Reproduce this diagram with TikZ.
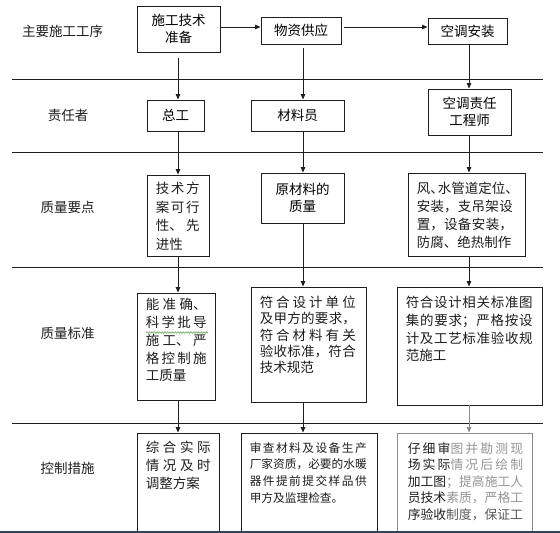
\documentclass[tikz,border=0pt]{standalone}
\usepackage{fontspec}
\setmainfont{Noto Sans CJK SC}
\XeTeXlinebreaklocale "zh"
\XeTeXlinebreakskip=0pt plus 4pt
\usetikzlibrary{arrows.meta,decorations.pathmorphing}
\definecolor{ink}{RGB}{30,30,30}
\definecolor{fade}{RGB}{150,150,150}
\definecolor{band}{RGB}{55,66,88}
\definecolor{squig}{RGB}{110,175,90}
\tikzset{
  >={Triangle[length=5.5pt,width=4.5pt]},
  box/.style={draw=ink,line width=0.9pt,inner sep=0pt,align=center,
    font=\fontsize{13.5}{17}\selectfont},
  rowlab/.style={inner sep=0pt,font=\fontsize{13.5}{17}\selectfont,text=ink},
  txt/.style={inner sep=0pt,anchor=north west,align=justify,text width=#1,text=ink},
  flow/.style={->,line width=0.9pt,draw=#1,fill=#1},
  flow/.default=ink,
  rule/.style={line width=0.9pt,draw=ink},
}

\begin{document}
\begin{tikzpicture}[x=1pt,y=-1pt]
  \clip (0,0) rectangle (560,533);
  \fill[white] (0,0) rectangle (560,533);
  % row labels
  \node[rowlab] (l1) at (62.5,31) {主要施工工序};
  \node[rowlab] (l2) at (68,115) {责任者};
  \node[rowlab] (l3) at (67.5,207) {质量要点};
  \node[rowlab] (l4) at (67.5,333) {质量标准};
  \node[rowlab] (l5) at (67.5,468) {控制措施};
  % separators
  \foreach \y in {79,152,267,423}
    \draw[rule] (12,\y) -- (543,\y);
  % columns
  \coordinate (colA) at (178,0);
  \coordinate (colB) at (303,0);
  \coordinate (colC) at (469,0);
  \coordinate (rowT) at (0,27);
  % procedure
  \node[box,minimum width=83pt,minimum height=46pt] (prep) at (178.5,29) {施工技术\\准备};
  \node[box,minimum width=80pt,minimum height=27pt] (supply) at (301,30.5) {物资供应};
  \node[box,minimum width=79pt,minimum height=26pt] (ac) at (467.5,31) {空调安装};
  % persons in charge
  \node[box,minimum width=57pt,minimum height=31pt] (chief) at (175.5,115.5) {总工};
  \node[box,minimum width=93pt,minimum height=31pt] (clerk) at (297.5,115.5) {材料员};
  \node[box,minimum width=83pt,minimum height=46pt] (acEng) at (469.5,112) {空调责任\\工程师};
  % key points
  \node[box,minimum width=62pt,minimum height=81pt] (k1) at (178,215.5) {};
  \node[txt=44pt,font=\fontsize{13.5}{18.5}\selectfont] (k1t) at ([shift={(9pt,-7.5pt)}]k1.north west)
    {技术方\linebreak 案可行\linebreak 性、先\linebreak 进性};
  \node[box,minimum width=83pt,minimum height=50pt] (k2) at (302.5,198) {原材料的\\质量};
  \node[box,minimum width=117pt,minimum height=83pt] (k3) at (466.5,214.5) {};
  \node[txt=96pt,font=\fontsize{13.5}{18}\selectfont] (k3t) at ([shift={(9pt,-9.5pt)}]k3.north west)
    {风、\kern-6pt 水管道定位、\kern-6pt\linebreak 安装，支吊架设\linebreak 置，设备安装，\linebreak 防腐、绝热制作};
  % standards
  \node[box,minimum width=78pt,minimum height=107pt] (s1) at (176,346.5) {};
  \node[txt=61pt,font=\fontsize{13.5}{17.8}\selectfont] (s1t) at ([shift={(9pt,-5.5pt)}]s1.north west)
    {能准确、\linebreak 科学批导\linebreak 施工、严\linebreak 格控制施\linebreak 工质量};
  \draw[squig,line width=0.6pt,decorate,decoration={snake,amplitude=0.8pt,segment length=2.6pt}]
    (146,332.5) -- (208,332.5);
  \node[box,minimum width=115pt,minimum height=115pt] (s2) at (308.5,344.5) {};
  \node[txt=96pt,font=\fontsize{13.5}{16.3}\selectfont] (s2t) at ([shift={(9pt,-9.5pt)}]s2.north west)
    {符合设计单位\linebreak 及甲方的要求，\linebreak 符合材料有关\linebreak 验收标准，符合\linebreak 技术规范};
  \node[box,minimum width=145pt,minimum height=118pt] (s3) at (469.5,346) {};
  \node[txt=127pt,font=\fontsize{13.5}{17.7}\selectfont] (s3t) at ([shift={(9pt,-9.5pt)}]s3.north west)
    {符合设计相关标准图\linebreak 集的要求；严格按设\linebreak 计及工艺标准验收规\linebreak 范施工};
  % control measures
  \node[box,minimum width=82pt,minimum height=112pt] (c1) at (178,489) {};
  \node[txt=65pt,font=\fontsize{13.5}{18}\selectfont] (c1t) at ([shift={(9pt,-8.5pt)}]c1.north west)
    {综合实际\linebreak 情况及时\linebreak 调整方案};
  \node[box,minimum width=136pt,minimum height=112pt] (c2) at (309,489) {};
  \node[txt=117pt,font=\fontsize{11.7}{16.7}\selectfont] (c2t) at ([shift={(9pt,-9.4pt)}]c2.north west)
    {审查材料及设备生产\linebreak 厂家资质，必要的水暖\linebreak 器件提前提交样品供\linebreak 甲方及监理检查。};
  \node[box,draw=black!45,minimum width=135pt,minimum height=112pt] (c3) at (464.5,489) {};
  \node[txt=115.5pt,font=\fontsize{12.8}{16.5}\selectfont] (c3t) at ([shift={(11pt,-9.8pt)}]c3.north west)
    {仔细审\textcolor{fade}{图并勘测现}\linebreak
     场实际\textcolor{fade}{情况后绘制}\linebreak
     加工图\textcolor{fade}{；提高施工人}\linebreak
     员技术\textcolor{fade}{素质，严格工}\linebreak
     序验收\textcolor{black!65}{制度，保证工}};
  % flow along the procedure
  \draw[flow] (prep.east |- rowT) -- (supply.west |- rowT);
  \draw[flow,shorten <=3pt] (supply.east |- rowT) -- (ac.west |- rowT);
  % column A
  \draw[flow,shorten <=6pt] (prep.south -| colA) -- (chief.north -| colA);
  \draw[flow] (chief.south -| colA) -- (k1.north -| colA);
  \draw[flow] (k1.south -| colA) -- (s1.north -| colA);
  \draw[flow] (s1.south -| colA) -- (c1.north -| colA);
  % column B
  \draw[flow,shorten <=4pt] (supply.south -| colB) -- (clerk.north -| colB);
  \draw[flow] (clerk.south -| colB) -- (k2.north -| colB);
  \draw[flow] (k2.south -| colB) -- (s2.north -| colB);
  \draw[flow] (s2.south -| colB) -- (c2.north -| colB);
  % column C
  \draw[flow] (ac.south -| colC) -- (acEng.north -| colC);
  \draw[flow] (acEng.south -| colC) -- (k3.north -| colC);
  \draw[flow] (k3.south -| colC) -- (s3.north -| colC);
  \draw[flow=black!45] (s3.south -| colC) -- (c3.north -| colC);
  % bottom edge
  \fill[band] (0,530.5) rectangle (560,533);
\end{tikzpicture}
\end{document}
